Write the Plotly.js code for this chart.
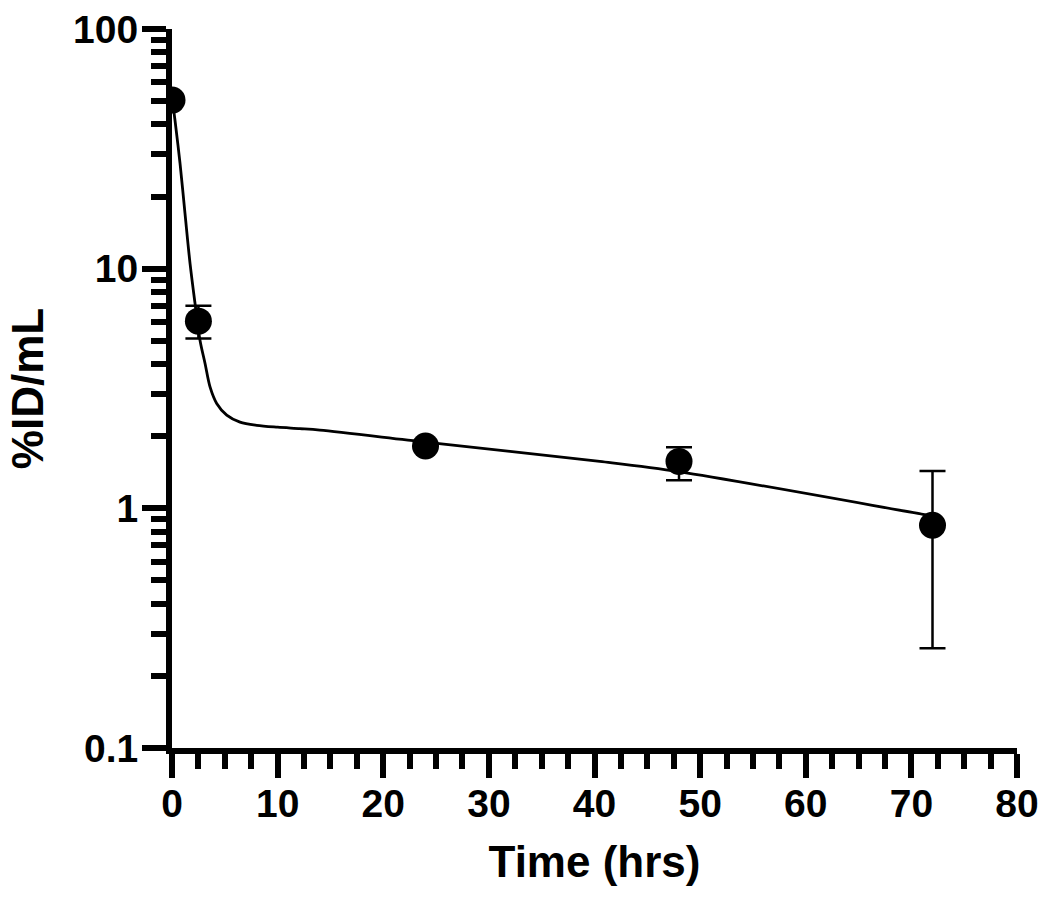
<!DOCTYPE html>
<html>
<head>
<meta charset="utf-8">
<script src="https://cdn.plot.ly/plotly-3.0.1.min.js"></script>
<style>html,body{margin:0;padding:0;background:#fff;}#chart{width:1050px;height:910px;}</style>
</head>
<body>
<div id="chart"></div>
<script>
// Observed data (time in hrs, %ID/mL)
var timeHrs = [0, 2.5, 24, 48, 72];
var meanVal = [50.5, 6.04, 1.82, 1.57, 0.85];
var upperVal = [50.5, 7.0, 1.82, 1.80, 1.43];
var lowerVal = [50.5, 5.11, 1.82, 1.31, 0.261];

// Fitted curve
var fitT = [0, 0.28, 0.76, 1.23, 1.71, 2.18, 2.65, 3.13, 3.6, 4.23, 5.18, 6.44, 8.02, 10.0, 12.12, 14.0, 24.0, 40.5, 48.1, 71.1, 72];
var fitV = [52, 41.7, 27.5, 17.0, 10.5, 7.16, 5.03, 4.02, 3.21, 2.74, 2.45, 2.29, 2.22, 2.18, 2.15, 2.12, 1.89, 1.57, 1.42, 0.944, 0.93];

// Axis ticks
var xTickVals = [0, 10, 20, 30, 40, 50, 60, 70, 80];
var xMinorVals = [2.5, 5, 7.5, 12.5, 15, 17.5, 22.5, 25, 27.5, 32.5, 35, 37.5, 42.5, 45, 47.5, 52.5, 55, 57.5, 62.5, 65, 67.5, 72.5, 75, 77.5];
var yTickVals = [0.1, 1, 10, 100];
var yTickText = ['0.1', '1', '10', '100'];
var yMinorVals = [0.2,0.3,0.4,0.5,0.6,0.7,0.8,0.9,2,3,4,5,6,7,8,9,20,30,40,50,60,70,80,90];

var errPlus = meanVal.map(function(m, i){ return upperVal[i] - m; });
var errMinus = meanVal.map(function(m, i){ return m - lowerVal[i]; });

var fontFam = 'Liberation Sans, Arial, sans-serif';

var traces = [
  {
    x: fitT, y: fitV, type: 'scatter', mode: 'lines',
    line: {color: '#000', width: 2.8, shape: 'spline', smoothing: 0.9},
    hoverinfo: 'skip', showlegend: false
  },
  {
    x: timeHrs, y: meanVal, type: 'scatter', mode: 'markers',
    marker: {color: '#000', size: 27},
    error_y: {type: 'data', symmetric: false, array: errPlus, arrayminus: errMinus,
              color: '#000', thickness: 2.5, width: 13},
    showlegend: false
  }
];

var layout = {
  width: 1050, height: 910,
  margin: {l: 172, r: 33, t: 29, b: 162},
  paper_bgcolor: '#fff', plot_bgcolor: '#fff',
  showlegend: false,
  xaxis: {
    range: [0, 80], showgrid: false, zeroline: false,
    showline: true, linecolor: '#000', linewidth: 6,
    tickmode: 'array', tickvals: xTickVals,
    ticks: 'outside', ticklen: 24, tickwidth: 6, tickcolor: '#000',
    ticklabelstandoff: -8,
    minor: {tickmode: 'array', tickvals: xMinorVals, ticks: 'outside', ticklen: 15, tickwidth: 6, tickcolor: '#000', showgrid: false},
    tickfont: {family: fontFam, size: 39, color: '#000', weight: 'bold'},
    title: {text: 'Time (hrs)', font: {family: fontFam, size: 44, color: '#000', weight: 'bold'}, standoff: 24}
  },
  yaxis: {
    type: 'log', range: [-1, 2], showgrid: false, zeroline: false,
    showline: true, linecolor: '#000', linewidth: 6,
    tickmode: 'array', tickvals: yTickVals, ticktext: yTickText,
    ticks: 'outside', ticklen: 24, tickwidth: 6, tickcolor: '#000',
    ticklabelstandoff: -4,
    minor: {tickmode: 'array', tickvals: yMinorVals, ticks: 'outside', ticklen: 15, tickwidth: 6, tickcolor: '#000', showgrid: false},
    tickfont: {family: fontFam, size: 39, color: '#000', weight: 'bold'},
    title: {text: '%ID/mL', font: {family: fontFam, size: 44, color: '#000', weight: 'bold'}, standoff: 18}
  }
};

Plotly.newPlot('chart', traces, layout, {displayModeBar: false, staticPlot: true});
</script>
</body>
</html>
